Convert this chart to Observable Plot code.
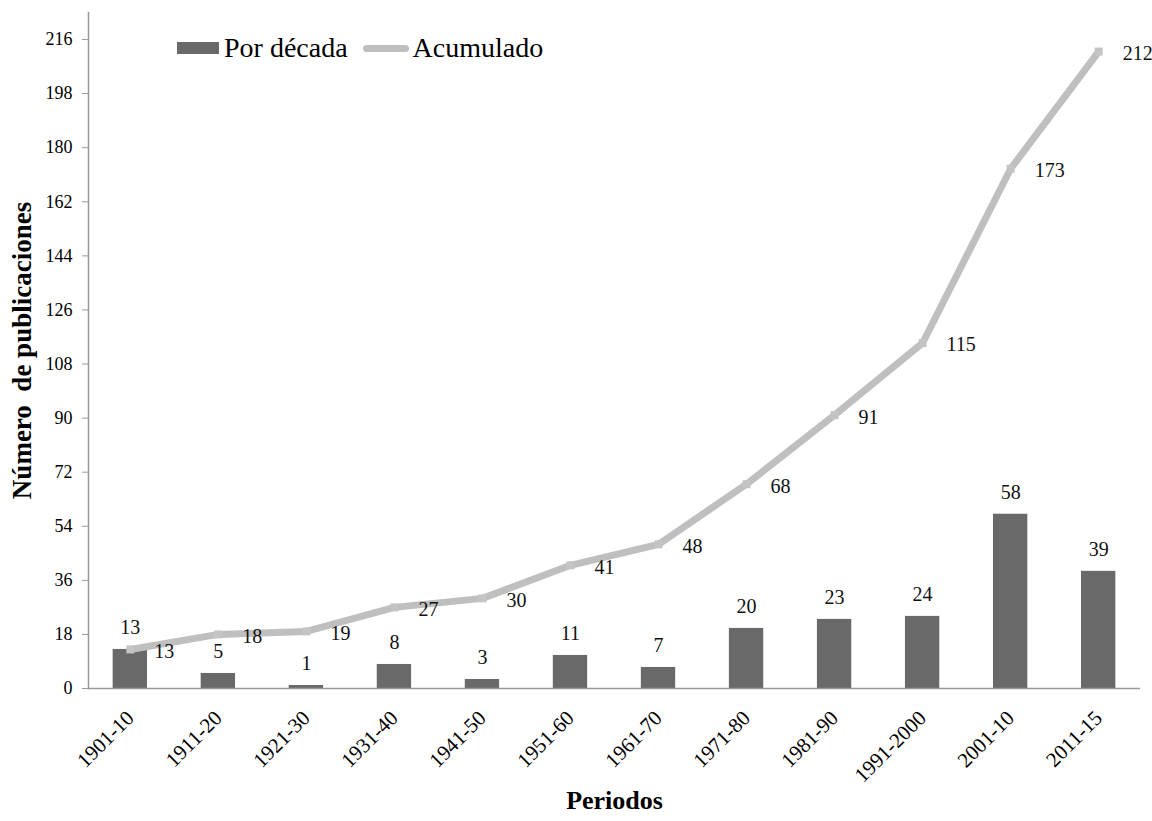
<!DOCTYPE html>
<html>
<head>
<meta charset="utf-8">
<script src="https://cdn.jsdelivr.net/npm/d3@7"></script>
<script src="https://cdn.jsdelivr.net/npm/@observablehq/plot@0.6"></script>
<style>
  html, body { margin: 0; padding: 0; background: #fff; font-family: 'Liberation Serif', serif; }
  #wrap { position: relative; width: 1152px; height: 821px; font-family: 'Liberation Serif', serif; }
  #chart svg, #chart svg g, #chart svg text { font-family: 'Liberation Serif', serif !important; }
  #legend { position: absolute; left: 177px; top: 32px; display: flex; align-items: center; font-size: 28px; color: #000; font-family: 'Liberation Serif', serif; }
  .sw-bar { width: 42px; height: 12px; background: #696969; margin-right: 5px; }
  .sw-line { width: 46px; height: 7px; background: #bfbfbf; border-radius: 4px; margin-left: 15px; margin-right: 4px; }
</style>
</head>
<body>
<div id="wrap">
  <div id="chart"></div>
  <div id="legend">
    <span class="sw-bar"></span><span>Por década</span>
    <span class="sw-line"></span><span>Acumulado</span>
  </div>
</div>
<script>
const periods = ["1901-10","1911-20","1921-30","1931-40","1941-50","1951-60","1961-70","1971-80","1981-90","1991-2000","2001-10","2011-15"];
const porDecada = [13, 5, 1, 8, 3, 11, 7, 20, 23, 24, 58, 39];
const acumulado = [13, 18, 19, 27, 30, 41, 48, 68, 91, 115, 173, 212];
const yTicks = [0, 18, 36, 54, 72, 90, 108, 126, 144, 162, 180, 198, 216];

const rows = periods.map((p, i) => ({periodo: p, decada: porDecada[i], acum: acumulado[i]}));
const serif = "'Liberation Serif', serif";

const chart = Plot.plot({
  width: 1152,
  height: 821,
  marginLeft: 88,
  marginRight: 12,
  marginTop: 12,
  marginBottom: 133,
  style: {color: "#000", background: "#fff", fontFamily: serif},
  x: {type: "band", domain: periods, paddingInner: 0.61, paddingOuter: 0.28, round: false},
  y: {domain: [0, 225]},
  marks: [
    Plot.frame({anchor: "left", stroke: "#999", strokeWidth: 1.5}),
    Plot.axisY({ticks: yTicks, tickSize: 6, tickPadding: 10, stroke: "#999", fontSize: 18, fontFamily: serif, label: null}),
    Plot.axisX({tickSize: 0, tickRotate: -45, tickPadding: 26, fontSize: 21, fontFamily: serif, label: null}),
    Plot.barY(rows, {x: "periodo", y: "decada", fill: "#696969"}),
    Plot.ruleY([0], {stroke: "#999", strokeWidth: 1.5}),
    Plot.line(rows, {x: "periodo", y: "acum", stroke: "#bfbfbf", strokeWidth: 7, strokeLinejoin: "round"}),
    Plot.dot(rows, {x: "periodo", y: "acum", symbol: "square", r: 4.5, fill: "#c4c4c4"}),
    Plot.text(rows, {x: "periodo", y: "decada", text: d => String(d.decada), dy: -22, fontSize: 20, fontFamily: serif, fill: "#111"}),
    Plot.text(rows, {x: "periodo", y: "acum", text: d => String(d.acum), dx: 24, dy: 2, textAnchor: "start", fontSize: 20, fontFamily: serif, fill: "#111"}),
    Plot.text(["Periodos"], {frameAnchor: "bottom", dy: 120, fontSize: 26, fontWeight: "bold", fontFamily: serif, fill: "#000"}),
    Plot.text(["Número  de publicaciones"], {frameAnchor: "left", textAnchor: "middle", dx: -66, rotate: -90, fontSize: 27, fontWeight: "bold", fontFamily: serif, fill: "#000"})
  ]
});
document.getElementById("chart").appendChild(chart);
</script>
</body>
</html>
